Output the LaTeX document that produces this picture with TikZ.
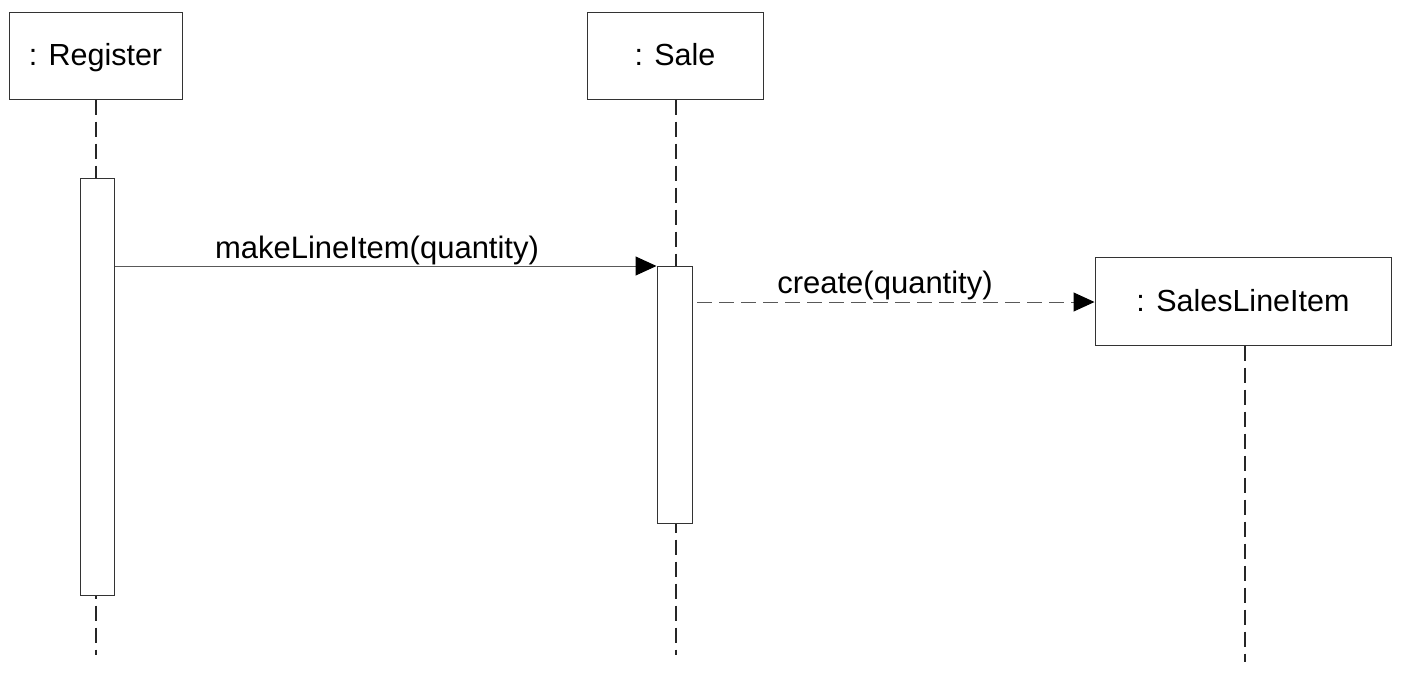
\documentclass[tikz,border=0pt]{standalone}
\usepackage{fontspec}
\setmainfont{Liberation Sans}
\usetikzlibrary{arrows.meta}
\begin{document}
\begin{tikzpicture}[x=1pt,y=-1pt,
  obj/.style={draw=black!80,line width=1pt,fill=white,inner sep=0pt,text height=24pt,text depth=4pt,font=\fontsize{30.5}{34}\selectfont},
  act/.style={draw=black!80,line width=1pt,fill=white},
  life/.style={draw=black!85,line width=1.6pt,dash pattern=on 15pt off 7pt},
  msg/.style={draw=black!65,line width=1pt,-{Triangle[length=21pt,width=19pt,color=black]}},
  lbl/.style={font=\fontsize{31}{34}\selectfont,inner sep=0pt,anchor=base}]
\useasboundingbox (0,0) rectangle (1404,672);
% objects
\node[obj,minimum width=173pt,minimum height=87pt] (reg) at (95.5,55.5) {: Register};
\node[obj,minimum width=176pt,minimum height=87pt] (sale) at (675,55.5) {: Sale};
\node[obj,minimum width=296pt,minimum height=88pt] (sli) at (1243,301) {: SalesLineItem};
% lifeline ends
\coordinate (regend) at (96,655);
\coordinate (saleend) at (676,655);
\coordinate (sliend) at (1245,662);
\draw[life] (reg.south -| regend) -- (regend);
\draw[life] (sale.south -| saleend) -- (saleend);
\draw[life] (sli.south -| sliend) -- (sliend);
% activations
\node[act,minimum width=34pt,minimum height=417pt,inner sep=0pt] (rega) at (97,386.5) {};
\node[act,minimum width=35pt,minimum height=257pt,inner sep=0pt] (salea) at (674.5,394.5) {};
% messages
\draw[msg] (rega.east |- 0,266) -- (salea.west |- 0,266);
\node[lbl] (l1) at (377,258) {makeLineItem(quantity)};
\coordinate (cstart) at (697,302);
\draw[msg,dash pattern=on 15pt off 7pt] (cstart) -- (sli.west |- cstart);
\node[lbl] (l2) at (885,293) {create(quantity)};
\end{tikzpicture}
\end{document}
